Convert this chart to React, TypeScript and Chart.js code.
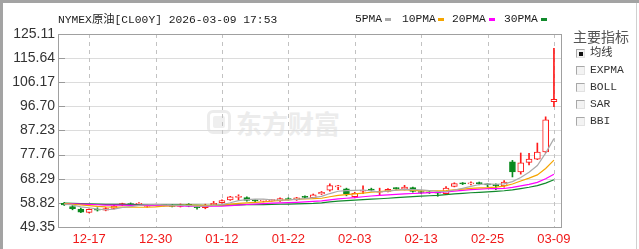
import React, { useEffect, useRef } from 'react';
import { Chart, registerables } from 'chart.js';

Chart.register(...registerables);

const dates = [
  '12-12', '12-15', '12-16', '12-17', '12-18', '12-19', '12-22', '12-23', '12-24', '12-26',
  '12-29', '12-30', '12-31', '01-02', '01-05', '01-06', '01-07', '01-08', '01-09', '01-12',
  '01-13', '01-14', '01-15', '01-16', '01-19', '01-20', '01-21', '01-22', '01-23', '01-26',
  '01-27', '01-28', '01-29', '01-30', '02-02', '02-03', '02-04', '02-05', '02-06', '02-09',
  '02-10', '02-11', '02-12', '02-13', '02-16', '02-17', '02-18', '02-19', '02-20', '02-23',
  '02-24', '02-25', '02-26', '02-27', '03-02', '03-03', '03-04', '03-05', '03-06', '03-09',
];

const openP = [
  58.6, 57.4, 56.4, 55.1, 56.3, 56.0, 56.6, 57.9, 58.5, 58.2,
  57.4, 57.9, 58.0, 57.9, 57.4, 58.2, 57.2, 56.9, 58.1, 58.9,
  60.0, 61.0, 60.9, 59.8, 59.5, 59.7, 59.6, 60.5, 60.0, 61.2,
  60.9, 62.3, 63.8, 65.1, 64.3, 61.3, 63.4, 64.1, 63.0, 63.3,
  64.6, 64.2, 64.8, 63.2, 62.9, 62.8, 62.4, 65.3, 66.6, 66.3,
  66.6, 66.1, 65.8, 65.5, 74.9, 71.0, 74.7, 76.0, 78.8, 98.5,
];
const highP = [
  59.0, 57.8, 56.8, 56.5, 56.9, 57.0, 57.9, 58.7, 58.8, 58.9,
  58.2, 58.3, 58.2, 58.2, 58.4, 58.5, 57.6, 58.3, 59.4, 60.0,
  61.4, 62.0, 61.2, 60.0, 59.9, 60.1, 60.8, 60.8, 61.0, 61.6,
  62.3, 63.3, 66.3, 65.7, 64.6, 63.0, 65.5, 64.6, 64.6, 64.4,
  64.8, 65.7, 65.0, 63.5, 63.2, 63.2, 65.2, 66.7, 66.8, 67.1,
  67.0, 66.4, 66.3, 67.6, 75.5, 78.4, 78.3, 82.3, 92.6, 119.5,
];
const lowP = [
  57.8, 56.1, 55.0, 54.9, 55.6, 55.7, 56.4, 57.7, 57.9, 58.0,
  57.1, 57.7, 57.6, 57.2, 57.2, 57.3, 56.3, 56.5, 57.9, 58.7,
  59.8, 60.0, 59.5, 59.3, 59.2, 59.5, 59.4, 59.9, 59.8, 60.6,
  60.6, 62.1, 63.4, 64.0, 61.6, 60.8, 62.4, 63.5, 62.0, 63.1,
  64.1, 63.9, 63.0, 62.4, 62.5, 61.4, 62.0, 65.1, 66.0, 65.9,
  65.9, 65.2, 64.0, 65.0, 69.0, 70.1, 73.7, 75.8, 78.5, 96.6,
];
const closeP = [
  58.0, 56.5, 55.2, 56.3, 56.0, 56.6, 57.6, 58.5, 58.1, 58.3,
  57.9, 58.0, 57.9, 57.4, 58.1, 57.5, 56.9, 57.9, 58.6, 59.7,
  61.2, 61.2, 59.8, 59.6, 59.7, 59.9, 60.5, 60.1, 60.8, 61.0,
  62.0, 63.0, 65.6, 65.3, 62.3, 62.6, 63.6, 63.8, 63.2, 64.1,
  64.4, 65.0, 63.3, 62.9, 62.8, 62.6, 64.6, 66.4, 66.3, 66.5,
  66.4, 65.9, 65.6, 67.0, 71.0, 74.5, 76.0, 78.8, 91.4, 99.5,
];
// closes before the visible window (for moving-average warm-up)
const priorClose = [
  59.4, 59.8, 59.1, 58.7, 59.0, 58.5, 58.8, 59.5, 59.9, 59.2,
  58.4, 58.0, 58.3, 59.0, 58.7, 58.2, 58.9, 59.3, 58.4, 59.0,
  58.7, 58.1, 58.8, 59.1, 58.6, 58.3, 58.7, 58.2, 58.5,
];

const xTickIdx = [3, 11, 19, 27, 35, 43, 51, 59];
const yTicks = [49.35, 58.82, 68.29, 77.76, 87.23, 96.7, 106.17, 115.64, 125.11];
const maPeriods = [5, 10, 20, 30];
const maLabels = ['5PMA', '10PMA', '20PMA', '30PMA'];
const maColors = ['#aaaaaa', '#f5a500', '#ff00ff', '#118a2c'];
const maLegendX = [355, 402, 452, 504];
const maSwatchX = [385, 438, 489, 541];
const indicatorItems = ['均线', 'EXPMA', 'BOLL', 'SAR', 'BBI'];
const indicatorY = [53, 70, 87, 104.5, 121];

const UP = '#ff1a1a';
const DOWN = '#0a8a1e';

function movingAverage(n: number): number[] {
  const all = priorClose.concat(closeP);
  const off = priorClose.length;
  return closeP.map((_, i) => {
    let s = 0;
    for (let k = 0; k < n; k++) s += all[off + i - k];
    return s / n;
  });
}

const gridPlugin = {
  id: 'kgrid',
  beforeDatasetsDraw(chart: any) {
    const { ctx, chartArea: a, scales } = chart;
    const x = scales.x;
    const y = scales.y;
    ctx.save();
    ctx.lineWidth = 1;
    yTicks.forEach((v) => {
      const py = Math.round(y.getPixelForValue(v)) + 0.5;
      ctx.strokeStyle = '#dcdcdc';
      ctx.beginPath();
      ctx.moveTo(a.left, py);
      ctx.lineTo(a.right, py);
      ctx.stroke();
      ctx.strokeStyle = '#9a9a9a';
      ctx.beginPath();
      ctx.moveTo(a.left, py);
      ctx.lineTo(a.left + 7, py);
      ctx.stroke();
    });
    ctx.strokeStyle = '#c2c2c2';
    ctx.setLineDash([4, 4]);
    xTickIdx.forEach((v) => {
      const px = Math.round(x.getPixelForValue(v)) + 0.5;
      ctx.beginPath();
      ctx.moveTo(px, a.top);
      ctx.lineTo(px, a.bottom);
      ctx.stroke();
    });
    ctx.setLineDash([]);
    ctx.restore();
  },
  afterDatasetsDraw(chart: any) {
    const { ctx, chartArea: a } = chart;
    ctx.save();
    ctx.strokeStyle = '#a0a0a0';
    ctx.lineWidth = 1;
    ctx.strokeRect(Math.round(a.left) + 0.5, Math.round(a.top) + 0.5, Math.round(a.right - a.left), Math.round(a.bottom - a.top));
    ctx.restore();
  },
};

export default function App() {
  const ref = useRef<HTMLCanvasElement | null>(null);

  useEffect(() => {
    if (!ref.current) return;
    const up = closeP.map((c, i) => c >= openP[i]);
    const lineSets = maPeriods.map((n, k) => ({
      type: 'line' as const,
      label: maLabels[k],
      data: movingAverage(n).map((v, i) => ({ x: i, y: v })),
      borderColor: maColors[k],
      backgroundColor: maColors[k],
      borderWidth: 1.2,
      pointRadius: 0,
      tension: 0,
      order: 0,
    }));
    const chart = new Chart(ref.current, {
      type: 'bar',
      data: {
        datasets: [
          ...lineSets,
          {
            type: 'bar',
            label: 'body',
            data: closeP.map((c, i) => ({ x: i, y: [Math.min(openP[i], c), Math.max(openP[i], c)] })) as any,
            backgroundColor: up.map((u) => (u ? '#ffffff' : DOWN)),
            borderColor: up.map((u) => (u ? UP : DOWN)),
            borderWidth: 1,
            borderSkipped: false,
            barThickness: 6,
            minBarLength: 1,
            grouped: false,
            order: 1,
          } as any,
          {
            type: 'bar',
            label: 'wick',
            data: highP.map((h, i) => ({ x: i, y: [lowP[i], h] })) as any,
            backgroundColor: up.map((u) => (u ? UP : DOWN)),
            borderWidth: 0,
            barThickness: 1,
            grouped: false,
            order: 2,
          } as any,
        ],
      },
      options: {
        responsive: false,
        animation: false,
        devicePixelRatio: 1,
        events: [],
        layout: { padding: { top: 34, right: 78, left: 0, bottom: 0 } },
        plugins: { legend: { display: false }, tooltip: { enabled: false } },
        scales: {
          x: {
            type: 'linear',
            min: -0.75,
            max: 59.85,
            offset: false,
            grid: { display: false, drawTicks: false },
            border: { display: false },
            afterBuildTicks: (s: any) => {
              s.ticks = xTickIdx.map((v) => ({ value: v }));
            },
            afterFit: (s: any) => {
              s.height = 22;
            },
            ticks: {
              autoSkip: false,
              maxRotation: 0,
              padding: 5,
              color: '#f01818',
              font: { family: "'Liberation Sans', Arial, sans-serif", size: 13 },
              callback: (v: any) => dates[Math.round(Number(v))] ?? '',
            },
          },
          y: {
            type: 'linear',
            min: 49.35,
            max: 125.11,
            grid: { display: false, drawTicks: false },
            border: { display: false },
            afterBuildTicks: (s: any) => {
              s.ticks = yTicks.map((v) => ({ value: v }));
            },
            afterFit: (s: any) => {
              s.width = 58;
            },
            ticks: {
              padding: 3,
              color: '#333333',
              font: { family: "'Liberation Sans', Arial, sans-serif", size: 14 },
              callback: (v: any) => Number(v).toFixed(2),
            },
          },
        },
      } as any,
      plugins: [gridPlugin],
    });
    return () => chart.destroy();
  }, []);

  const monoFont = "'Liberation Mono', 'Noto Sans CJK SC', monospace";

  return (
    <div
      style={{
        position: 'fixed',
        left: 0,
        top: 0,
        width: 639,
        height: 249,
        background: '#ffffff',
        overflow: 'hidden',
      }}
    >
      {/* watermark */}
      <div style={{ position: 'absolute', left: 207, top: 110, width: 24, height: 24, border: '3px solid #ececec', borderRadius: 6, boxSizing: 'border-box' }} />
      <div style={{ position: 'absolute', left: 213, top: 116, width: 12, height: 12, background: '#efefef', borderRadius: 2 }} />
      <div
        style={{
          position: 'absolute',
          left: 236,
          top: 108,
          fontFamily: "'Noto Sans CJK SC', sans-serif",
          fontWeight: 700,
          fontSize: 26,
          lineHeight: '30px',
          color: '#ececec',
          whiteSpace: 'nowrap',
        }}
      >
        东方财富
      </div>

      <canvas ref={ref} width={639} height={249} style={{ position: 'absolute', left: 0, top: 0, display: 'block' }} />

      {/* frame */}
      <div style={{ position: 'absolute', left: 0, top: 0, width: 639, height: 3, background: '#a3a3a3' }} />
      <div style={{ position: 'absolute', left: 0, top: 0, width: 3, height: 249, background: '#a3a3a3' }} />
      <div style={{ position: 'absolute', left: 636, top: 3, width: 1, height: 246, background: '#d0d0d0' }} />

      {/* title */}
      <div
        style={{
          position: 'absolute',
          left: 58,
          top: 14,
          font: `11.3px ${monoFont}`,
          lineHeight: '13px',
          color: '#1a1a1a',
          whiteSpace: 'nowrap',
        }}
      >
        NYMEX原油[CL00Y] 2026-03-09 17:53
      </div>

      {/* MA legend */}
      {maLabels.map((lab, k) => (
        <React.Fragment key={lab}>
          <div
            style={{
              position: 'absolute',
              left: maLegendX[k],
              top: 13,
              font: `11.3px ${monoFont}`,
              lineHeight: '13px',
              color: '#1a1a1a',
              whiteSpace: 'nowrap',
            }}
          >
            {lab}
          </div>
          <div style={{ position: 'absolute', left: maSwatchX[k], top: 18, width: 6, height: 3, background: maColors[k] }} />
        </React.Fragment>
      ))}

      {/* indicator panel */}
      <div
        style={{
          position: 'absolute',
          left: 573,
          top: 28,
          fontFamily: "'Noto Sans CJK SC', sans-serif",
          fontSize: 14,
          lineHeight: '17px',
          color: '#555555',
          whiteSpace: 'nowrap',
        }}
      >
        主要指标
      </div>
      {indicatorItems.map((item, k) => (
        <React.Fragment key={item}>
          <div
            style={{
              position: 'absolute',
              left: 576,
              top: Math.round(indicatorY[k] - 4.5),
              width: 9,
              height: 9,
              boxSizing: 'border-box',
              borderTop: '1px solid #a8a8a8',
              borderLeft: '1px solid #a8a8a8',
              borderRight: '1px solid #e2e2e2',
              borderBottom: '1px solid #e2e2e2',
              background: '#f3f3f3',
            }}
          >
            {k === 0 ? (
              <div style={{ position: 'absolute', left: 1.5, top: 1.5, width: 4, height: 4, background: '#111' }} />
            ) : null}
          </div>
          <div
            style={{
              position: 'absolute',
              left: 590,
              top: Math.round(indicatorY[k] - 6.5),
              font: `11.3px ${monoFont}`,
              lineHeight: '13px',
              color: '#333333',
              whiteSpace: 'nowrap',
            }}
          >
            {item}
          </div>
        </React.Fragment>
      ))}
    </div>
  );
}
